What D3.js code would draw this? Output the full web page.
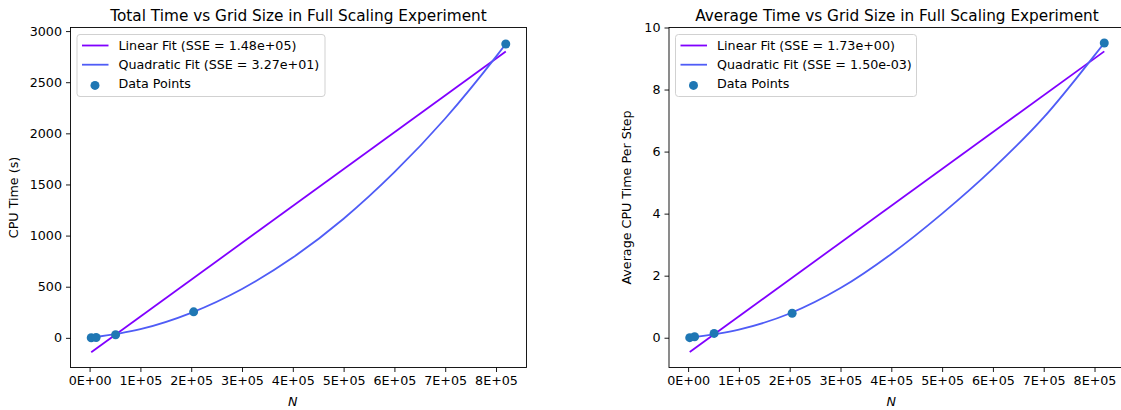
<!DOCTYPE html>
<html>
<head>
<meta charset="utf-8">
<script src="https://cdn.jsdelivr.net/npm/d3@7"></script>
<style>
  body { margin: 0; background: #fff; }
  text { font-family: "DejaVu Sans", sans-serif; fill: #000; }
</style>
</head>
<body>
<div id="wrapper"></div>
<script>
// measured grid sizes and timings
const gridN = [3200, 12800, 51200, 204800, 819200];
const totalTime = [0.5, 3, 30, 254, 2874];
const avgTime = [0.002, 0.03, 0.14, 0.79, 9.5];

// fit curves
const fitN = [3200, 100000, 200000, 300000, 400000, 500000, 600000, 700000, 800000, 819200];
const totalQuad = [2, 85, 245, 478, 785, 1165, 1620, 2145, 2750, 2874];
const avgQuad = [0.0, 0.26, 0.78, 1.6, 2.7, 4.0, 5.45, 7.1, 9.1, 9.5];
const linN = [3200, 819200];
const totalLinear = [-141, 2800];
const avgLinear = [-0.46, 9.23];

const xTicks = [0, 100000, 200000, 300000, 400000, 500000, 600000, 700000, 800000];
const totalTicks = [0, 500, 1000, 1500, 2000, 2500, 3000];
const avgTicks = [0, 2, 4, 6, 8, 10];

const linearLabels = ["Linear Fit (SSE = 1.48e+05)", "Linear Fit (SSE = 1.73e+00)"];
const quadLabels = ["Quadratic Fit (SSE = 3.27e+01)", "Quadratic Fit (SSE = 1.50e-03)"];

const colLinear = "#8000ff";
const colQuad = "#4f5cf6";
const colDots = "#1f77b4";

const fs = "12.7px";

const svg = d3.select("#wrapper").append("svg")
    .attr("width", 1121)
    .attr("height", 410);

function drawPanel(opt) {
    const w = 456, h = 340;
    const g = svg.append("g").attr("transform", `translate(${opt.left}, 27.5)`);

    const x = d3.scaleLinear().domain([-37600, 860000]).range([0, w]);
    const y = d3.scaleLinear().domain(opt.yDomain).range([h, 0]);

    const fmtX = d => d === 0 ? "0E+00" : (d / 1e5) + "E+05";

    const xAxis = g.append("g")
        .attr("transform", `translate(0, ${h})`)
        .call(d3.axisBottom(x).tickValues(xTicks).tickFormat(fmtX).tickSize(4.5).tickPadding(4));
    const yAxis = g.append("g")
        .call(d3.axisLeft(y).tickValues(opt.yTicks).tickFormat(d3.format("d")).tickSize(4.5).tickPadding(4));
    [xAxis, yAxis].forEach(a => {
        a.select(".domain").remove();
        a.selectAll("text").style("font-size", fs).style("font-family", "DejaVu Sans");
        a.selectAll("line").attr("stroke-width", 0.9);
    });

    // frame
    g.append("rect")
        .attr("width", w).attr("height", h)
        .attr("fill", "none").attr("stroke", "#000").attr("stroke-width", 0.9);

    const marks = g.append("g");

    const line = d3.line().x(d => x(d[0])).y(d => y(d[1]));
    const curve = d3.line().x(d => x(d[0])).y(d => y(d[1])).curve(d3.curveMonotoneX);

    marks.append("path")
        .attr("d", line(d3.zip(linN, opt.linear)))
        .attr("fill", "none").attr("stroke", colLinear).attr("stroke-width", 1.8);
    marks.append("path")
        .attr("d", curve(d3.zip(fitN, opt.quad)))
        .attr("fill", "none").attr("stroke", colQuad).attr("stroke-width", 1.8);
    marks.selectAll("circle")
        .data(d3.zip(gridN, opt.points))
        .join("circle")
        .attr("cx", d => x(d[0]))
        .attr("cy", d => y(d[1]))
        .attr("r", 4.5)
        .attr("fill", colDots);

    // title and axis labels
    g.append("text")
        .attr("x", w / 2).attr("y", -7)
        .attr("text-anchor", "middle")
        .style("font-size", "15.3px")
        .text(opt.title);
    g.append("text")
        .attr("x", x(400000)).attr("y", h + 38)
        .attr("text-anchor", "middle")
        .style("font-size", fs).style("font-style", "italic")
        .text("N");
    g.append("text")
        .attr("transform", `translate(${opt.yLabelX}, ${h / 2}) rotate(-90)`)
        .attr("text-anchor", "middle")
        .style("font-size", fs)
        .text(opt.yLabel);

    // legend
    const leg = g.append("g").attr("transform", "translate(6.5, 7)");
    leg.append("rect")
        .attr("width", opt.legendW).attr("height", 62)
        .attr("rx", 3)
        .attr("fill", "#fff").attr("fill-opacity", 0.8)
        .attr("stroke", "#ccc").attr("stroke-width", 0.9);
    const rows = [
        { label: opt.linLabel, kind: "line", color: colLinear },
        { label: opt.quadLabel, kind: "line", color: colQuad },
        { label: "Data Points", kind: "dot", color: colDots }
    ];
    rows.forEach((r, i) => {
        const cy = 11 + i * 19.2;
        if (r.kind === "line") {
            leg.append("line")
                .attr("x1", 5).attr("x2", 31.5).attr("y1", cy).attr("y2", cy)
                .attr("stroke", r.color).attr("stroke-width", 1.8);
        } else {
            leg.append("circle")
                .attr("cx", 18).attr("cy", cy + 1.5).attr("r", 4.5).attr("fill", r.color);
        }
        leg.append("text")
            .attr("x", 41.5).attr("y", cy + 4.5)
            .style("font-size", fs)
            .text(r.label);
    });
}

drawPanel({
    left: 70.5,
    yDomain: [-290, 3035],
    yTicks: totalTicks,
    points: totalTime,
    quad: totalQuad,
    linear: totalLinear,
    title: "Total Time vs Grid Size in Full Scaling Experiment",
    yLabel: "CPU Time (s)",
    yLabelX: -53,
    linLabel: linearLabels[0],
    quadLabel: quadLabels[0],
    legendW: 248
});

drawPanel({
    left: 669,
    yDomain: [-0.96, 10],
    yTicks: avgTicks,
    points: avgTime,
    quad: avgQuad,
    linear: avgLinear,
    title: "Average Time vs Grid Size in Full Scaling Experiment",
    yLabel: "Average CPU Time Per Step",
    yLabelX: -38,
    linLabel: linearLabels[1],
    quadLabel: quadLabels[1],
    legendW: 241
});
</script>
</body>
</html>
